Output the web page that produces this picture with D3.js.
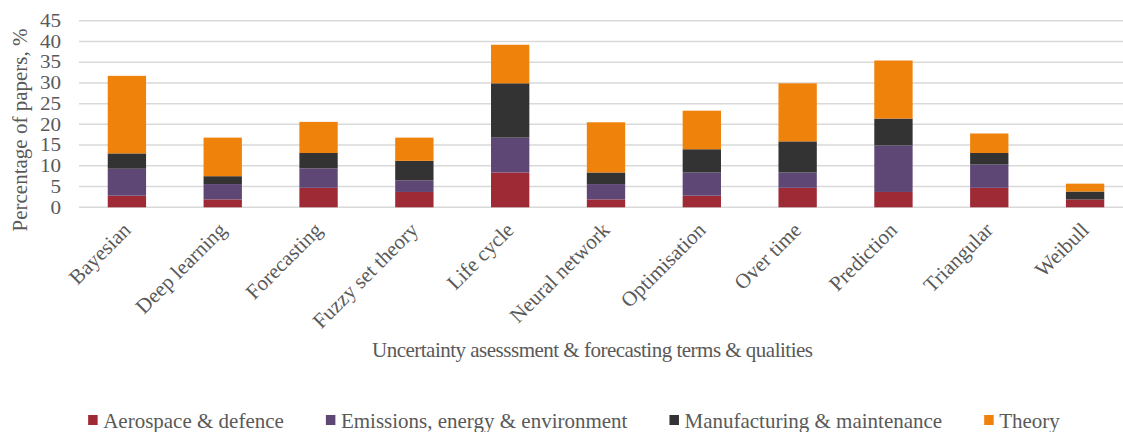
<!DOCTYPE html>
<html>
<head>
<meta charset="utf-8">
<script src="https://cdn.jsdelivr.net/npm/d3@7"></script>
<style>
  html, body { margin: 0; padding: 0; background: #ffffff; }
  svg { display: block; }
  text { font-family: "Liberation Serif", "Times New Roman", serif; fill: #595959; }
</style>
</head>
<body>
<svg id="chart" width="1123" height="432"></svg>
<script>
// Share of papers (%) per term, split by application domain
const categories = ["Bayesian", "Deep learning", "Forecasting", "Fuzzy set theory", "Life cycle",
  "Neural network", "Optimisation", "Over time", "Prediction", "Triangular", "Weibull"];
const aerospace     = [2.8, 1.9, 4.7, 3.7, 8.4, 1.9, 2.8, 4.7, 3.7, 4.7, 1.9];
const emissions     = [6.5, 3.7, 4.7, 2.8, 8.4, 3.7, 5.6, 3.7, 11.2, 5.6, 0];
const manufacturing = [3.7, 1.9, 3.7, 4.7, 13.1, 2.8, 5.6, 7.5, 6.5, 2.8, 1.9];
const theory        = [18.7, 9.3, 7.5, 5.6, 9.3, 12.1, 9.3, 14.0, 14.0, 4.7, 1.9];
const seriesNames = ["Aerospace & defence", "Emissions, energy & environment",
  "Manufacturing & maintenance", "Theory"];
const yTicks = [0, 5, 10, 15, 20, 25, 30, 35, 40, 45];
const yTitle = "Percentage of papers, %";
const xTitle = "Uncertainty asesssment & forecasting terms & qualities";

const colors = ["#9e2a36", "#5e4675", "#333333", "#ef820b"];
const seriesValues = [aerospace, emissions, manufacturing, theory];

const rows = categories.map((c, i) => {
  const r = { category: c };
  seriesNames.forEach((s, k) => { r[s] = seriesValues[k][i]; });
  return r;
});

const svg = d3.select("#chart");
const plot = { left: 79, right: 1133, top: 20.7, bottom: 207.3 };

const x = d3.scaleBand().domain(categories).range([plot.left, plot.right])
  .paddingInner(0.6).paddingOuter(0.3);
const y = d3.scaleLinear().domain([0, 45]).range([plot.bottom, plot.top]);

// horizontal gridlines
svg.append("g").selectAll("line").data(yTicks).join("line")
  .attr("x1", plot.left).attr("x2", plot.right)
  .attr("y1", d => y(d)).attr("y2", d => y(d))
  .attr("stroke", "#d9d9d9").attr("stroke-width", 1.5);

// y tick labels: compact size, widened to the serif's usual proportions
const tickLabels = svg.append("g").selectAll("text").data(yTicks).join("text")
  .attr("x", 61).attr("y", d => y(d)).attr("dy", "0.34em")
  .attr("text-anchor", "end").attr("font-size", 18.5)
  .text(d => d);
tickLabels.each(function () {
  const w = this.getComputedTextLength();
  d3.select(this).attr("textLength", w * 1.14).attr("lengthAdjust", "spacingAndGlyphs");
});

// stacked bars
const stack = d3.stack().keys(seriesNames)(rows);
svg.append("g").selectAll("g").data(stack).join("g")
  .attr("fill", (d, i) => colors[i])
  .selectAll("rect").data(d => d).join("rect")
  .attr("x", d => x(d.data.category))
  .attr("width", x.bandwidth())
  .attr("y", d => y(d[1]))
  .attr("height", d => Math.max(0, y(d[0]) - y(d[1])));

// category labels
svg.append("g").selectAll("text").data(categories).join("text")
  .attr("transform", d => `translate(${x(d) + x.bandwidth() / 2 + 5},${plot.bottom + 24}) rotate(-45)`)
  .attr("text-anchor", "end").attr("font-size", 21)
  .text(d => d);

// axis titles
svg.append("text")
  .attr("transform", "translate(27,130) rotate(-90)")
  .attr("text-anchor", "middle").attr("font-size", 21)
  .text(yTitle);

svg.append("text")
  .attr("x", 372).attr("y", 357)
  .attr("font-size", 21)
  .attr("textLength", 441).attr("lengthAdjust", "spacing")
  .text(xTitle);

// legend
const legend = svg.append("g");
const items = legend.selectAll("g").data(seriesNames).join("g");
items.append("rect").attr("width", 9.5).attr("height", 10).attr("y", 415)
  .attr("fill", (d, i) => colors[i]);
items.append("text").attr("x", 15).attr("y", 428).attr("font-size", 21).text(d => d);
let cursor = 0;
const offsets = [];
items.each(function () {
  offsets.push(cursor);
  const w = d3.select(this).select("text").node().getComputedTextLength();
  cursor += 15 + w + 42;
});
const total = cursor - 42;
const start = 574 - total / 2;
items.attr("transform", (d, i) => `translate(${start + offsets[i]},0)`);
</script>
</body>
</html>
